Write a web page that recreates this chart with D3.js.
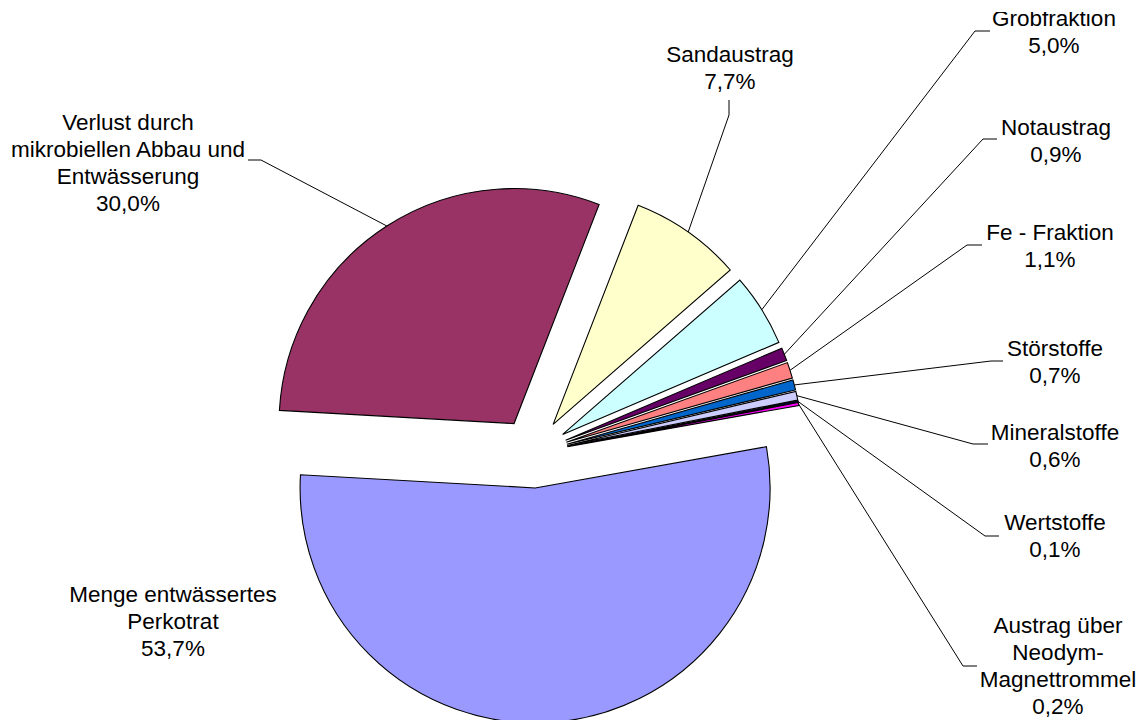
<!DOCTYPE html>
<html>
<head>
<meta charset="utf-8">
<script src="https://cdn.jsdelivr.net/npm/d3@7"></script>
<style>
  html, body { margin: 0; padding: 0; background: #fff; }
  svg { display: block; }
  text { font-family: "Liberation Sans", Arial, sans-serif; font-size: 22.5px; fill: #000; }
</style>
</head>
<body>
<svg id="chart" width="1142" height="720"></svg>
<script>
// Anteile der Stoffströme (Prozent)
const categories = [
  ["Menge entwässertes", "Perkotrat"],
  ["Verlust durch", "mikrobiellen Abbau und", "Entwässerung"],
  ["Sandaustrag"],
  ["Grobfraktion"],
  ["Notaustrag"],
  ["Fe - Fraktion"],
  ["Störstoffe"],
  ["Mineralstoffe"],
  ["Wertstoffe"],
  ["Austrag über", "Neodym-", "Magnettrommel"]
];
const values = [53.7, 30.0, 7.7, 5.0, 0.9, 1.1, 0.7, 0.6, 0.1, 0.2];
const colors = ["#9999FF", "#993366", "#FFFFCC", "#CCFFFF", "#660066",
                "#FF8080", "#0066CC", "#CCCCFF", "#000080", "#FF00FF"];

// Label layout: text centre x, first baseline y, leader line elbow and end (null = no leader)
const labelLayout = [
  { x: 173, y: 602, elbow: null, end: null },
  { x: 128, y: 130, elbow: [261, 160], end: [248, 160] },
  { x: 730, y: 62,  elbow: [729, 115], end: [729, 100] },
  { x: 1054, y: 26, elbow: [975, 31],  end: [990, 31] },
  { x: 1056, y: 135, elbow: [983, 139], end: [997, 139] },
  { x: 1050, y: 240, elbow: [967, 245], end: [982, 245] },
  { x: 1055, y: 356, elbow: [991, 361], end: [1003, 361] },
  { x: 1055, y: 440, elbow: [973, 444], end: [988, 444] },
  { x: 1055, y: 530, elbow: [985, 536], end: [999, 536] },
  { x: 1058, y: 633, elbow: [963, 666], end: [977, 666] }
];

const cx = 533, cy = 453, radius = 235, explode = 35, lineHeight = 27;
const startDeg = 79.9;

const svg = d3.select("#chart");
const fmt = v => d3.format(".1f")(v).replace(".", ",") + "%";

// Chart area clips anything above its top edge
svg.append("defs").append("clipPath").attr("id", "area")
  .append("rect").attr("x", 0).attr("y", 12).attr("width", 1142).attr("height", 708);

const pie = d3.pie().sort(null).value(d => d)
  .startAngle(startDeg * Math.PI / 180)
  .endAngle(startDeg * Math.PI / 180 + 2 * Math.PI);
const arcs = pie(values);
const arc = d3.arc().innerRadius(0).outerRadius(radius);

const g = svg.append("g").attr("transform", `translate(${cx},${cy})`);

// Exploded slices
g.selectAll("path.slice")
  .data(arcs)
  .join("path")
  .attr("class", "slice")
  .attr("d", arc)
  .attr("fill", (d, i) => colors[i])
  .attr("stroke", "#000")
  .attr("stroke-width", 1.1)
  .attr("stroke-linejoin", "miter")
  .attr("transform", d => {
    const m = (d.startAngle + d.endAngle) / 2;
    return `translate(${Math.sin(m) * explode},${-Math.cos(m) * explode})`;
  });

// Leader lines from the outer arc midpoint of each slice
const leaders = svg.append("g");
arcs.forEach((d, i) => {
  const L = labelLayout[i];
  if (!L.elbow) return;
  const m = (d.startAngle + d.endAngle) / 2;
  const rr = radius + explode;
  const p0 = [cx + Math.sin(m) * rr, cy - Math.cos(m) * rr];
  leaders.append("polyline")
    .attr("points", [p0, L.elbow, L.end].map(p => p.join(",")).join(" "))
    .attr("fill", "none")
    .attr("stroke", "#000")
    .attr("stroke-width", 1);
});

// Labels: category lines plus percentage
const labels = svg.append("g").attr("clip-path", "url(#area)");
categories.forEach((lines, i) => {
  const L = labelLayout[i];
  const t = labels.append("text").attr("text-anchor", "middle");
  lines.concat([fmt(values[i])]).forEach((s, k) => {
    t.append("tspan").attr("x", L.x).attr("y", L.y + k * lineHeight).text(s);
  });
});
</script>
</body>
</html>
